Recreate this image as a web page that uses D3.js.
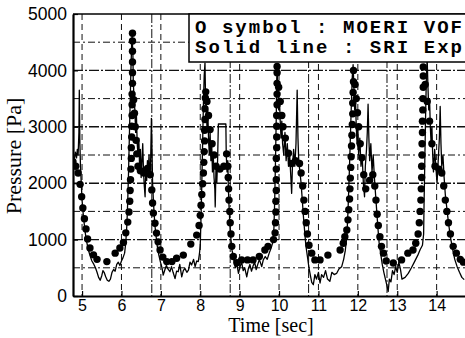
<!DOCTYPE html>
<html>
<head>
<meta charset="utf-8">
<script src="https://cdn.jsdelivr.net/npm/d3@7/dist/d3.min.js"></script>
<style>
  body { margin: 0; background: #fff; }
  svg { display: block; }
</style>
</head>
<body>
<div class="chart"></div>
<script>
// MOERI VOF (symbols): [time s, pressure Pa]
const vofPoints = [
  [4.77,2380],[4.84,2300],[4.90,2180],[4.95,1980],[4.99,1760],[5.02,1560],[5.06,1370],[5.10,1190],
  [5.14,1010],[5.20,850],[5.29,730],[5.38,650],[5.63,610],[5.84,760],[5.96,850],[6.05,950],
  [6.11,1120],[6.16,1310],[6.19,1490],[6.21,1680],[6.22,1870],[6.23,2060],[6.24,2250],[6.25,2440],
  [6.25,2630],[6.26,2820],[6.26,3010],[6.27,3200],[6.27,3390],[6.27,3580],[6.28,3770],[6.28,3960],
  [6.28,4150],[6.28,4340],[6.28,4520],[6.28,4660],
  [6.31,3480],[6.33,3240],[6.35,3000],[6.37,2760],[6.39,2520],[6.42,2300],[6.48,2220],[6.57,2180],
  [6.66,2260],[6.73,2150],[6.77,1880],[6.79,1650],[6.81,1470],[6.85,1290],[6.89,1115],[6.93,960],
  [6.98,815],[7.05,690],[7.15,610],[7.28,610],[7.40,670],[7.57,725],[7.76,920],[7.91,1080],
  [7.97,1250],[8.00,1430],[8.02,1610],[8.04,1800],[8.06,1990],[8.08,2180],[8.09,2370],[8.10,2560],
  [8.11,2750],[8.11,2940],[8.12,3130],[8.12,3320],[8.13,3510],[8.14,3620],
  [8.17,3450],[8.21,3200],[8.25,2950],[8.30,2700],[8.35,2500],[8.40,2300],[8.50,2250],[8.60,2300],
  [8.67,2520],[8.70,2300],[8.71,2100],[8.72,1900],[8.73,1700],[8.75,1500],[8.76,1300],[8.78,1100],
  [8.80,880],[8.84,700],[8.93,590],[9.05,640],[9.20,640],[9.34,640],[9.50,700],[9.64,815],
  [9.72,880],[9.86,1000],
  [9.90,1120],[9.91,1300],[9.92,1490],[9.92,1680],[9.93,1870],[9.93,2060],[9.93,2250],[9.93,2440],
  [9.94,2630],[9.94,2820],[9.94,3010],[9.94,3200],[9.95,3390],[9.95,3580],[9.95,3770],[9.95,3960],
  [9.95,4070],
  [9.99,3700],[10.03,3450],[10.07,3200],[10.10,3000],[10.16,2800],[10.24,2530],[10.32,2350],[10.42,2400],
  [10.52,2350],[10.56,2180],[10.60,1950],[10.63,1700],[10.66,1500],[10.69,1300],[10.72,1100],[10.76,900],
  [10.83,760],[10.91,640],[11.04,640],[11.24,725],[11.55,815],[11.63,935],[11.67,1050],
  [11.72,1170],[11.75,1350],[11.77,1530],[11.79,1720],[11.80,1900],[11.81,2090],[11.82,2280],[11.83,2470],
  [11.84,2660],[11.85,2850],[11.86,3040],[11.87,3230],[11.87,3420],[11.88,3610],[11.89,3800],[11.89,4000],
  [11.93,3750],[11.96,3500],[11.99,3250],[12.02,3000],[12.06,2700],[12.10,2450],[12.15,2150],[12.20,1900],
  [12.30,2050],[12.38,2150],[12.43,1950],[12.46,1700],[12.49,1450],[12.52,1250],[12.56,1050],[12.60,880],
  [12.65,760],[12.72,620],[12.90,585],[13.11,640],[13.27,760],[13.40,815],[13.47,935],
  [13.53,1100],[13.56,1300],[13.58,1500],[13.60,1700],[13.61,1900],[13.62,2100],[13.62,2300],[13.63,2500],
  [13.63,2700],[13.64,2900],[13.64,3100],[13.65,3300],[13.65,3500],[13.66,3700],[13.66,3900],[13.66,4060],
  [13.71,3750],[13.76,3450],[13.82,3100],[13.88,2700],[13.96,2300],[14.06,2250],[14.13,2180],[14.18,1950],
  [14.22,1700],[14.26,1500],[14.30,1300],[14.35,1100],[14.42,880],[14.50,760],[14.60,650],[14.68,600]
];

// SRI experiment (solid line): [time s, pressure Pa]
const expPoints = [
  [4.77,2250],[4.80,2400],[4.83,2550],[4.86,2450],[4.88,2600],[4.90,2500],[4.92,2900],[4.93,3650],
  [4.945,2700],[4.96,2300],[4.98,2000],[5.00,1700],[5.03,1450],[5.06,1250],[5.09,1080],[5.12,950],
  [5.16,820],[5.20,720],[5.25,620],[5.30,560],[5.34,500],[5.38,420],[5.42,330],[5.46,280],
  [5.50,360],[5.53,450],[5.56,420],[5.60,340],[5.64,280],[5.68,260],[5.72,300],[5.76,420],
  [5.80,470],[5.84,440],[5.88,560],[5.92,600],[5.96,540],[6.00,620],[6.04,680],[6.08,760],
  [6.11,950],[6.14,1300],[6.16,1700],[6.18,2200],[6.20,2800],[6.22,3400],[6.24,4000],[6.26,4500],
  [6.27,4600],[6.29,4300],[6.30,3800],[6.32,3500],[6.34,3300],[6.36,2900],[6.38,3200],[6.40,2700],
  [6.42,2500],[6.44,2800],[6.46,2300],[6.48,2600],[6.50,2100],[6.52,2400],[6.54,2700],[6.56,2200],
  [6.58,1950],[6.60,1760],[6.62,2300],[6.64,2050],[6.66,2400],[6.68,2200],[6.70,2500],[6.72,2100],
  [6.74,2350],[6.76,3150],[6.78,2400],[6.79,2000],[6.81,1700],[6.83,1450],[6.85,1250],[6.88,1050],
  [6.91,880],[6.95,720],[6.99,600],[7.03,500],[7.06,370],[7.10,460],[7.14,540],[7.18,480],
  [7.23,430],[7.27,520],[7.31,420],[7.36,310],[7.40,440],[7.44,430],[7.48,560],[7.53,340],
  [7.57,450],[7.61,490],[7.66,420],[7.70,460],[7.74,600],[7.78,550],[7.83,650],[7.87,520],
  [7.91,620],[7.95,610],[7.98,750],[8.00,900],[8.02,1400],[8.04,2000],[8.06,2700],[8.08,3400],
  [8.10,3900],[8.12,4130],[8.13,3700],[8.15,3400],[8.17,3000],[8.19,3300],[8.21,2800],[8.23,2500],
  [8.25,2900],[8.27,2400],[8.29,2700],[8.31,2200],[8.33,2500],[8.35,2100],[8.37,1900],[8.38,1580],
  [8.40,2300],[8.42,2000],[8.44,2400],[8.46,3050],[8.50,3050],[8.55,3050],[8.60,3050],[8.65,3050],
  [8.66,2500],[8.68,2200],[8.70,2400],[8.71,2000],[8.73,1600],[8.75,1300],[8.78,1000],[8.81,800],
  [8.85,650],[8.89,500],[8.93,560],[8.97,400],[9.01,520],[9.05,600],[9.09,450],[9.13,500],
  [9.18,340],[9.22,480],[9.26,560],[9.30,440],[9.34,530],[9.38,600],[9.42,470],[9.46,560],
  [9.50,650],[9.56,520],[9.60,640],[9.65,700],[9.70,650],[9.75,760],[9.80,850],[9.84,950],
  [9.87,1200],[9.89,1700],[9.91,2400],[9.93,3200],[9.94,3800],[9.95,4050],[9.97,3700],[9.99,3300],
  [10.01,3500],[10.03,3100],[10.05,2800],[10.07,3100],[10.09,2700],[10.12,2500],[10.15,2900],[10.18,2400],
  [10.21,2700],[10.24,2300],[10.27,2500],[10.30,2100],[10.32,1820],[10.34,2300],[10.37,2600],[10.40,2300],
  [10.43,2700],[10.46,3650],[10.48,2800],[10.50,2400],[10.53,2200],[10.56,2000],[10.59,1700],[10.62,1400],
  [10.65,1150],[10.68,900],[10.72,700],[10.76,500],[10.80,350],[10.83,240],[10.87,200],[10.91,380],
  [10.95,300],[11.00,420],[11.04,230],[11.08,380],[11.13,330],[11.18,450],[11.23,300],[11.29,260],
  [11.34,420],[11.40,380],[11.46,400],[11.52,480],[11.59,520],[11.64,650],[11.68,800],[11.72,1050],
  [11.75,1500],[11.78,2100],[11.81,2800],[11.84,3500],[11.86,3900],[11.88,4100],[11.90,3700],[11.92,3300],
  [11.94,3500],[11.96,3000],[11.98,2700],[12.00,3000],[12.02,2500],[12.05,2800],[12.08,2300],[12.11,2500],
  [12.14,2000],[12.17,1760],[12.19,2300],[12.22,2600],[12.24,2900],[12.26,3400],[12.28,2800],[12.30,2400],
  [12.33,2700],[12.36,2200],[12.39,2500],[12.42,2100],[12.45,1800],[12.48,1500],[12.51,1200],[12.54,950],
  [12.58,750],[12.62,560],[12.66,420],[12.70,300],[12.74,180],[12.77,80],[12.80,300],[12.84,250],
  [12.88,450],[12.92,380],[12.96,520],[13.00,420],[13.04,600],[13.08,480],[13.12,300],[13.20,330],
  [13.28,400],[13.36,500],[13.44,610],[13.52,720],[13.58,820],[13.64,900],[13.67,1100],[13.68,1600],
  [13.70,2400],[13.72,3200],[13.74,3900],[13.76,4200],[13.78,3700],[13.80,3300],[13.82,3500],[13.84,3000],
  [13.86,2700],[13.88,3000],[13.90,2500],[13.92,2200],[13.95,2600],[13.98,2300],[14.01,2000],[14.04,2400],
  [14.07,2800],[14.09,3360],[14.11,2700],[14.13,2300],[14.16,2500],[14.19,2100],[14.22,1800],[14.26,1550],
  [14.30,1300],[14.35,1050],[14.40,850],[14.46,650],[14.52,520],[14.58,420],[14.64,330],[14.70,290]
];

const xTicks = [5, 6, 7, 8, 9, 10, 11, 12, 13, 14];
const yTicks = [0, 1000, 2000, 3000, 4000, 5000];
const yGrid = [500, 1000, 1500, 2000, 2500, 3000, 3500, 4000, 4500];
const xGridExtra = [6.77, 8.76, 10.75, 12.74];
const legendLines = ['O symbol : MOERI VOF', 'Solid line : SRI Exp'];

const w = 465;
const h = 338;
const plot = { left: 73, right: 465, top: 14, bottom: 296 };

const x = d3.scaleLinear().domain([4.77, 14.72]).range([plot.left, plot.right]);
const y = d3.scaleLinear().domain([0, 5000]).range([plot.bottom, plot.top]);

const svg = d3.select('.chart').append('svg')
  .attr('width', w)
  .attr('height', h);

svg.append('clipPath').attr('id', 'clip')
  .append('rect')
  .attr('x', plot.left).attr('y', plot.top)
  .attr('width', plot.right - plot.left).attr('height', plot.bottom - plot.top);

// grid
const grid = svg.append('g').attr('stroke', '#111').attr('fill', 'none');
grid.selectAll('.hg').data(yGrid).join('line')
  .attr('x1', plot.left).attr('x2', plot.right)
  .attr('y1', (d) => y(d)).attr('y2', (d) => y(d))
  .attr('stroke-width', (d) => (d % 1000 === 0 ? 1.4 : 1))
  .attr('stroke-dasharray', (d) => (d % 1000 === 0 ? '10,2,2,2' : '7,3,2,3'));
grid.selectAll('.vg').data(xTicks).join('line')
  .attr('x1', (d) => x(d)).attr('x2', (d) => x(d))
  .attr('y1', plot.top).attr('y2', plot.bottom)
  .attr('stroke-width', 1)
  .attr('stroke-dasharray', '6,4');
grid.selectAll('.vx').data(xGridExtra).join('line')
  .attr('x1', (d) => x(d)).attr('x2', (d) => x(d))
  .attr('y1', plot.top).attr('y2', plot.bottom)
  .attr('stroke-width', 1)
  .attr('stroke-dasharray', '9,2,2,2');

// data
const data = svg.append('g').attr('clip-path', 'url(#clip)');
data.append('path')
  .datum(expPoints)
  .attr('fill', 'none')
  .attr('stroke', '#000')
  .attr('stroke-width', 1.3)
  .attr('stroke-linejoin', 'round')
  .attr('d', d3.line().x((d) => x(d[0])).y((d) => y(d[1])));
data.selectAll('circle').data(vofPoints).join('circle')
  .attr('cx', (d) => x(d[0]))
  .attr('cy', (d) => y(d[1]))
  .attr('r', 3.7)
  .attr('fill', '#000');

// axes
const xAxis = svg.append('g')
  .attr('transform', `translate(0, ${plot.bottom})`)
  .call(d3.axisBottom(x).tickValues(xTicks).tickSize(-5).tickSizeOuter(0).tickPadding(4));
const yAxis = svg.append('g')
  .attr('transform', `translate(${plot.left}, 0)`)
  .call(d3.axisLeft(y).tickValues(yTicks).tickFormat(d3.format('d'))
    .tickSize(-5).tickSizeOuter(0).tickPadding(6));
[xAxis, yAxis].forEach((g) => {
  g.attr('font-family', '"Liberation Sans", Arial, sans-serif');
  g.select('.domain').attr('stroke', '#000').attr('stroke-width', 2.2);
  g.selectAll('.tick line').attr('stroke', '#000').attr('stroke-width', 1.2);
  g.selectAll('.tick text').attr('fill', '#000');
});
xAxis.attr('font-size', 16);
yAxis.attr('font-size', 17.5);

svg.append('line')
  .attr('x1', plot.left).attr('x2', plot.right)
  .attr('y1', plot.top).attr('y2', plot.top)
  .attr('stroke', '#000').attr('stroke-width', 1.6);

// legend
svg.append('rect')
  .attr('x', 189).attr('y', plot.top)
  .attr('width', 290).attr('height', 48)
  .attr('fill', '#fff').attr('stroke', '#000').attr('stroke-width', 1.5);
svg.append('g').selectAll('text').data(legendLines).join('text')
  .attr('x', 195)
  .attr('y', (d, i) => 33 + i * 20)
  .attr('font-family', '"Liberation Mono", "Courier New", monospace')
  .attr('font-weight', 'bold')
  .attr('font-size', 19)
  .attr('letter-spacing', 2.05)
  .style('white-space', 'pre')
  .text((d) => d);

// titles
svg.append('text')
  .attr('x', 271).attr('y', 332)
  .attr('text-anchor', 'middle')
  .attr('font-family', '"Liberation Serif", "Times New Roman", serif')
  .attr('font-size', 20)
  .text('Time [sec]');
svg.append('text')
  .attr('transform', 'translate(21, 156) rotate(-90)')
  .attr('text-anchor', 'middle')
  .attr('font-family', '"Liberation Serif", "Times New Roman", serif')
  .attr('font-size', 22)
  .text('Pressure [Pa]');
</script>
</body>
</html>
